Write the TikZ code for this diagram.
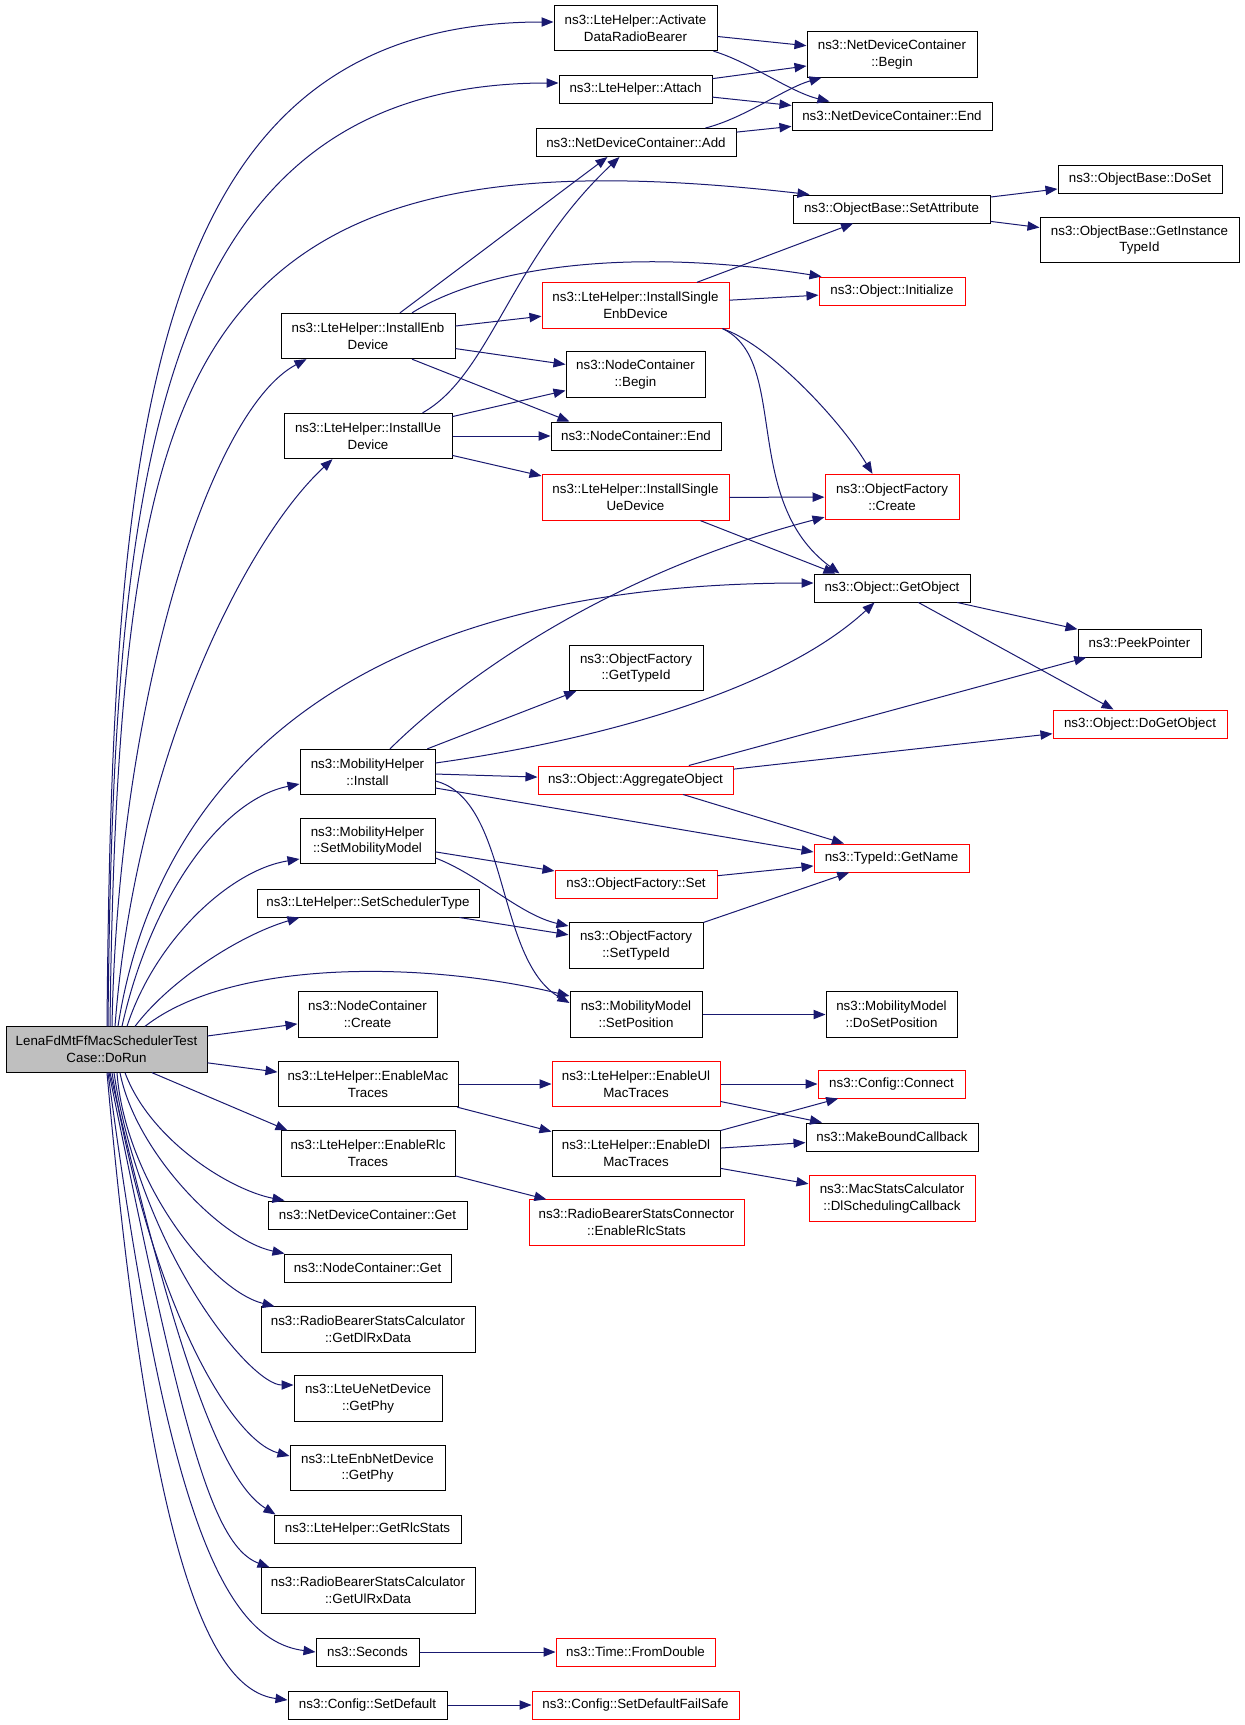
\documentclass[tikz,border=0pt]{standalone}
\usepackage{fontspec}
\setmainfont{Liberation Sans}
\usetikzlibrary{arrows.meta,calc}
\definecolor{edgeblue}{HTML}{191970}
\definecolor{boxred}{HTML}{FF0000}
\definecolor{boxgray}{HTML}{BFBFBF}

\begin{document}
\begin{tikzpicture}
    [
      x=0.75pt, y=-0.75pt,
      fn/.style={draw=black, line width=0.75pt, inner sep=0pt, align=center,
        font=\fontsize{10}{12.5}\selectfont},
      nodoc/.style={fn, draw=boxred},
      focus/.style={fn, fill=boxgray},
      one/.style={minimum height=21pt},
      two/.style={minimum height=34pt},
      bw/.style={minimum width=#1*0.75pt},
      call/.style={draw=edgeblue, line width=0.75pt, -{Triangle[length=9pt,width=7pt]}},
    ]
    %
    \fill [white] (0, 0) rectangle (1245, 1725);

    % caller
    \node [focus, two, bw=201] (dorun) at (106.5, 1049.5) {LenaFdMtFfMacSchedulerTest\\Case::DoRun};

    % second column
    \node [fn, two, bw=163] (activate) at (635.5, 28) {ns3::LteHelper::Activate\\DataRadioBearer};
    \node [fn, one, bw=153] (attach) at (635.5, 89) {ns3::LteHelper::Attach};
    \node [fn, one, bw=200] (ndcadd) at (636, 142.5) {ns3::NetDeviceContainer::Add};
    \node [fn, two, bw=174] (installenb) at (368, 336) {ns3::LteHelper::InstallEnb\\Device};
    \node [nodoc, two, bw=187] (singleenb) at (635.5, 305.5) {ns3::LteHelper::InstallSingle\\EnbDevice};
    \node [fn, two, bw=139] (ncbegin) at (635.5, 374.5) {ns3::NodeContainer\\::Begin};
    \node [fn, two, bw=168] (installue) at (368, 436) {ns3::LteHelper::InstallUe\\Device};
    \node [fn, one, bw=170] (ncend) at (636, 436) {ns3::NodeContainer::End};
    \node [nodoc, two, bw=187] (singleue) at (635.5, 497.5) {ns3::LteHelper::InstallSingle\\UeDevice};
    \node [fn, two, bw=134] (ofgettype) at (636, 668) {ns3::ObjectFactory\\::GetTypeId};
    \node [fn, two, bw=135] (mhinstall) at (367.5, 772) {ns3::MobilityHelper\\::Install};
    \node [nodoc, one, bw=195] (aggregate) at (635.5, 780) {ns3::Object::AggregateObject};
    \node [fn, two, bw=135] (setmob) at (367.5, 841) {ns3::MobilityHelper\\::SetMobilityModel};
    \node [nodoc, one, bw=162] (ofset) at (636, 884) {ns3::ObjectFactory::Set};
    \node [fn, one, bw=222] (setsched) at (368, 903) {ns3::LteHelper::SetSchedulerType};
    \node [fn, two, bw=134] (ofsettype) at (636, 945.5) {ns3::ObjectFactory\\::SetTypeId};
    \node [fn, two, bw=139] (ncreate) at (367.5, 1014.5) {ns3::NodeContainer\\::Create};
    \node [fn, two, bw=132] (setpos) at (636, 1014.5) {ns3::MobilityModel\\::SetPosition};
    \node [fn, two, bw=180] (enmac) at (368, 1084) {ns3::LteHelper::EnableMac\\Traces};
    \node [nodoc, two, bw=168] (enulmac) at (636, 1084) {ns3::LteHelper::EnableUl\\MacTraces};
    \node [fn, two, bw=174] (enrlc) at (368, 1153.5) {ns3::LteHelper::EnableRlc\\Traces};
    \node [fn, two, bw=168] (endlmac) at (636, 1153.5) {ns3::LteHelper::EnableDl\\MacTraces};
    \node [nodoc, two, bw=215] (rlcstats) at (636.5, 1222.5) {ns3::RadioBearerStatsConnector\\::EnableRlcStats};
    \node [fn, one, bw=199] (ndcget) at (367.5, 1215) {ns3::NetDeviceContainer::Get};
    \node [fn, one, bw=167] (ncget) at (367.5, 1268) {ns3::NodeContainer::Get};
    \node [fn, two, bw=214] (getdlrx) at (368, 1329.5) {ns3::RadioBearerStatsCalculator\\::GetDlRxData};
    \node [fn, two, bw=148] (uephy) at (368, 1398.5) {ns3::LteUeNetDevice\\::GetPhy};
    \node [fn, two, bw=155] (enbphy) at (367.5, 1468) {ns3::LteEnbNetDevice\\::GetPhy};
    \node [fn, one, bw=187] (getrlc) at (367.5, 1529) {ns3::LteHelper::GetRlcStats};
    \node [fn, two, bw=214] (getulrx) at (368, 1590.5) {ns3::RadioBearerStatsCalculator\\::GetUlRxData};
    \node [fn, one, bw=103] (seconds) at (367.5, 1652) {ns3::Seconds};
    \node [nodoc, one, bw=159] (fromdouble) at (635.5, 1652) {ns3::Time::FromDouble};
    \node [fn, one, bw=159] (setdefault) at (367.5, 1705) {ns3::Config::SetDefault};
    \node [nodoc, one, bw=207] (failsafe) at (635.5, 1705) {ns3::Config::SetDefaultFailSafe};

    % third and fourth column
    \node [fn, two, bw=170] (ndcbegin) at (892, 54.5) {ns3::NetDeviceContainer\\::Begin};
    \node [fn, one, bw=200] (ndcend) at (892, 116) {ns3::NetDeviceContainer::End};
    \node [fn, one, bw=197] (setattr) at (891.5, 209) {ns3::ObjectBase::SetAttribute};
    \node [fn, one, bw=164] (doset) at (1140, 179) {ns3::ObjectBase::DoSet};
    \node [fn, two, bw=199] (getinst) at (1139.5, 240) {ns3::ObjectBase::GetInstance\\TypeId};
    \node [nodoc, one, bw=146] (init) at (892, 291) {ns3::Object::Initialize};
    \node [nodoc, two, bw=134] (ofcreate) at (892, 497) {ns3::ObjectFactory\\::Create};
    \node [fn, one, bw=156] (getobject) at (892, 588) {ns3::Object::GetObject};
    \node [fn, one, bw=123] (peek) at (1139.5, 643) {ns3::PeekPointer};
    \node [nodoc, one, bw=174] (dogetobj) at (1140, 724) {ns3::Object::DoGetObject};
    \node [nodoc, one, bw=155] (getname) at (891.5, 858) {ns3::TypeId::GetName};
    \node [fn, two, bw=131] (dosetpos) at (891.5, 1014.5) {ns3::MobilityModel\\::DoSetPosition};
    \node [nodoc, one, bw=147] (connect) at (891.5, 1084) {ns3::Config::Connect};
    \node [fn, one, bw=172] (makebound) at (892, 1137) {ns3::MakeBoundCallback};
    \node [nodoc, two, bw=166] (dlsched) at (892, 1198.5) {ns3::MacStatsCalculator\\::DlSchedulingCallback};

    % straight calls
    \foreach \a/\b in {activate/ndcbegin, attach/ndcbegin, attach/ndcend, ndcadd/ndcend,
      setattr/doset, setattr/getinst, installenb/singleenb, installenb/ncbegin,
      installue/ncbegin, installue/ncend, installue/singleue, singleenb/setattr,
      singleenb/init, singleue/ofcreate, getobject/peek, getobject/dogetobj,
      mhinstall/ofgettype, mhinstall/aggregate, aggregate/peek, aggregate/dogetobj,
      aggregate/getname, setmob/ofset, setsched/ofsettype, ofset/getname,
      ofsettype/getname, setpos/dosetpos, dorun/ncreate, dorun/enmac,
      enmac/enulmac, enmac/endlmac, enulmac/connect, enulmac/makebound,
      endlmac/connect, endlmac/makebound, endlmac/dlsched, enrlc/rlcstats,
      seconds/fromdouble, setdefault/failsafe} {
      \draw [call] (\a) -- (\b);
    }

    % calls from DoRun, upwards
    \draw [call] ($(dorun.north)+(0.5,0)$) .. controls (112, 420) and (150, 22) .. ($(activate.west)+(0,-6)$);
    \draw [call] ($(dorun.north)+(1.5,0)$) .. controls (113, 470) and (155, 83) .. ($(attach.west)+(0,-6)$);
    \draw [call] ($(dorun.north)+(3.5,0)$) .. controls (115, 600) and (150, 400) .. (260, 290)
      .. controls (370, 180) and (550, 165) .. ($(setattr.north west)+(17,0)$);
    \draw [call] ($(dorun.north)+(5.5,0)$) .. controls (118, 700) and (210, 410) .. ($(installenb.south west)+(26,0)$);
    \draw [call] ($(dorun.north)+(8.5,0)$) .. controls (135, 760) and (245, 540) .. ($(installue.south west)+(49,0)$);
    \draw [call] ($(dorun.north)+(11.5,0)$) .. controls (150, 820) and (300, 583) .. ($(getobject.west)+(0,-5)$);
    \draw [call] ($(dorun.north)+(15.5,0)$) .. controls (150, 900) and (220, 800) .. ($(mhinstall.west)+(0,12)$);
    \draw [call] ($(dorun.north)+(20.5,0)$) .. controls (155, 940) and (230, 870) .. ($(setmob.west)+(0,18)$);
    \draw [call] ($(dorun.north)+(28.5,0)$) .. controls (170, 980) and (240, 935) .. ($(setsched.south west)+(43,0)$);
    \draw [call] ($(dorun.north)+(38.5,0)$) .. controls (230, 960) and (420, 960) .. ($(setpos.west)+(0,-18.5)$);

    % calls from DoRun, downwards
    \draw [call] ($(dorun.south)+(45.5,0)$) -- ($(enrlc.north west)+(7,0)$);
    \draw [call] ($(dorun.south)+(18.5,0)$) .. controls (150, 1140) and (230, 1190) .. ($(ndcget.north west)+(17,0)$);
    \draw [call] ($(dorun.south)+(13.5,0)$) .. controls (135, 1150) and (220, 1240) .. ($(ncget.north west)+(1,0)$);
    \draw [call] ($(dorun.south)+(10.5,0)$) .. controls (125, 1180) and (210, 1290) .. ($(getdlrx.north west)+(14,0)$);
    \draw [call] ($(dorun.south)+(7.5,0)$) .. controls (140, 1250) and (250, 1385) .. ($(uephy.west)+(0,-13.5)$);
    \draw [call] ($(dorun.south)+(5.5,0)$) .. controls (150, 1300) and (230, 1440) .. ($(enbphy.west)+(0,-12)$);
    \draw [call] ($(dorun.south)+(3.5,0)$) .. controls (175, 1350) and (220, 1480) .. ($(getrlc.north west)+(2,0)$);
    \draw [call] ($(dorun.south)+(2.5,0)$) .. controls (180, 1420) and (210, 1545) .. ($(getulrx.north west)+(9,0)$);
    \draw [call] ($(dorun.south)+(1.5,0)$) .. controls (165, 1500) and (220, 1640) .. (seconds.west);
    \draw [call] ($(dorun.south)+(0.5,0)$) .. controls (150, 1560) and (210, 1690) .. ($(setdefault.west)+(0,-5)$);

    % bent calls between helpers
    \draw [call] ($(activate.south east)+(-4,0)$) .. controls (750, 62) and (790, 92) .. ($(ndcend.north west)+(38,0)$);
    \draw [call] ($(ndcadd.north east)+(-31,0)$) .. controls (745, 118) and (785, 88) .. ($(ndcbegin.south west)+(15,0)$);
    \draw [call] ($(installenb.north)+(32,0)$) -- ($(ndcadd.south west)+(72,0)$);
    \draw [call] ($(installue.north east)+(-30,0)$) .. controls (490, 375) and (510, 260) .. ($(ndcadd.south west)+(84,0)$);
    \draw [call] ($(installenb.north)+(44,0)$) .. controls (480, 270) and (620, 245) .. ($(init.north west)+(3,0)$);
    \draw [call] ($(installenb.south)+(44,0)$) -- ($(ncend.north west)+(19,0)$);
    \draw [call] ($(singleenb.south east)+(-7,0)$) .. controls (770, 345) and (840, 420) .. ($(ofcreate.north west)+(48,0)$);
    \draw [call] ($(singleenb.south east)+(-7,0)$) .. controls (790, 360) and (740, 500) .. ($(getobject.north west)+(26,0)$);
    \draw [call] ($(singleue.south east)+(-29,0)$) -- ($(getobject.north west)+(22,0)$);
    \draw [call] ($(mhinstall.north)+(22.5,0)$) .. controls (470, 670) and (620, 570) .. ($(ofcreate.south west)+(0,-3)$);
    \draw [call] ($(mhinstall.east)+(0,-9)$) .. controls (600, 740) and (780, 690) .. ($(getobject.south west)+(61,0)$);
    \draw [call] ($(mhinstall.east)+(0,16)$) -- ($(getname.west)+(0,-6)$);
    \draw [call] ($(mhinstall.east)+(0,9)$) .. controls (510, 800) and (495, 960) .. ($(setpos.west)+(0,-11.5)$);
    \draw [call] ($(setmob.east)+(0,17)$) .. controls (480, 875) and (520, 915) .. ($(ofsettype.west)+(0,-19.5)$);
  \end{tikzpicture}
\end{document}
